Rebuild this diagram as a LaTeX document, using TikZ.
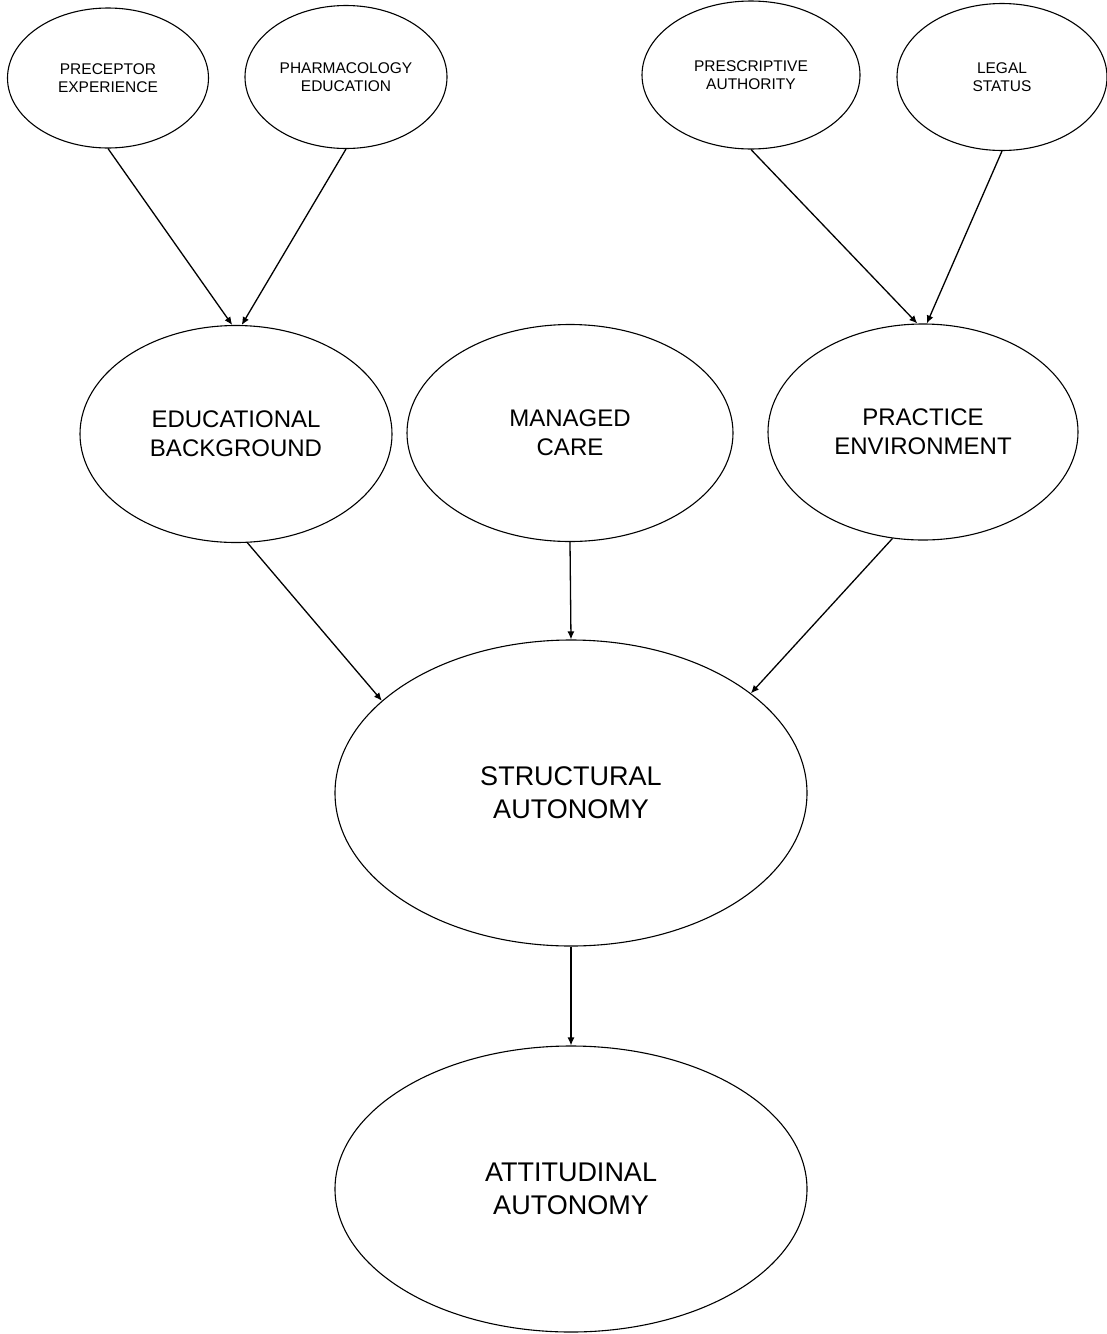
\documentclass[tikz,border=0pt]{standalone}
\usepackage{fontspec}
\setmainfont{Liberation Sans}
\usetikzlibrary{arrows.meta,shapes.geometric}
\begin{document}
\begin{tikzpicture}[x=1pt,y=-1pt,
  oval/.style={draw, ellipse, line width=1.1pt, inner sep=0pt, align=center},
  smalloval/.style={oval, font=\fontsize{15.5}{18}\selectfont},
  midoval/.style={oval, font=\fontsize{24}{29}\selectfont},
  bigoval/.style={oval, font=\fontsize{27}{33}\selectfont},
  conn/.style={line width=1.3pt, -{Latex[length=8pt,width=7pt]}}]
\useasboundingbox (0,0) rectangle (1107,1334);
% top row
\node[smalloval, minimum width=201pt, minimum height=140pt] (pre) at (108,78) {PRECEPTOR\\EXPERIENCE};
\node[smalloval, minimum width=202pt, minimum height=143pt] (pha) at (346,77) {PHARMACOLOGY\\EDUCATION};
\node[smalloval, minimum width=218pt, minimum height=148pt] (pres) at (751,75) {PRESCRIPTIVE\\AUTHORITY};
\node[smalloval, minimum width=210pt, minimum height=147pt] (leg) at (1002,77) {LEGAL\\STATUS};
% middle row
\node[midoval, minimum width=312pt, minimum height=217pt] (edu) at (236,434) {EDUCATIONAL\\BACKGROUND};
\node[midoval, minimum width=326pt, minimum height=217pt] (mc) at (570,433) {MANAGED\\CARE};
\node[midoval, minimum width=310pt, minimum height=216pt] (prac) at (923,432) {PRACTICE\\ENVIRONMENT};
% lower
\node[bigoval, minimum width=472pt, minimum height=306pt] (str) at (571,793) {STRUCTURAL\\AUTONOMY};
\node[bigoval, minimum width=472pt, minimum height=286pt] (att) at (571,1189) {ATTITUDINAL\\AUTONOMY};
% connectors
\draw[conn] (pre.south) -- (edu.92);
\draw[conn] (pha.south) -- (edu.87);
\draw[conn] (pres.south) -- (prac.93);
\draw[conn] (leg.south) -- (prac.88);
\draw[conn] (edu.-84) -- (str.154);
\draw[conn] (mc.south) -- (str.north);
\draw[conn] (prac.-106) -- (str.29);
\draw[conn] (str.south) -- (att.north);
\end{tikzpicture}
\end{document}
